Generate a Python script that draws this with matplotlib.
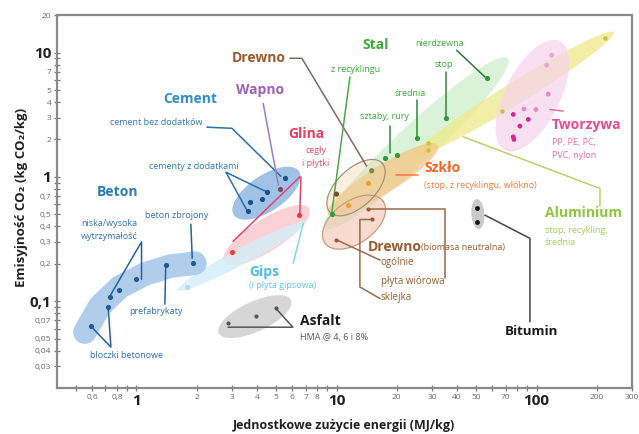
import numpy as np
import matplotlib.pyplot as plt

plt.rcParams['font.family'] = ['Open Sans', 'DejaVu Sans']

# ---- punkty materiałów: energia (MJ/kg), emisja (kg CO2/kg) ----
beton_e = [0.59, 0.72, 0.74, 0.82, 1.0, 1.4, 1.92]
beton_co2 = [0.063, 0.089, 0.107, 0.122, 0.152, 0.194, 0.201]
beton_pas_e = [0.552, 0.656, 0.826, 1.10, 1.47, 1.96]
beton_pas_co2 = [0.0563, 0.0912, 0.130, 0.165, 0.191, 0.202]

cement_e = [5.52, 4.47, 4.22, 3.69, 3.59]
cement_co2 = [0.971, 0.758, 0.658, 0.629, 0.528]
wapno_e = [5.24]
wapno_co2 = [0.792]
glina_e = [6.51, 2.99]
glina_co2 = [0.492, 0.249]
gips_e = [1.78]
gips_co2 = [0.130]
asfalt_e = [2.87, 3.95, 4.98]
asfalt_co2 = [0.0662, 0.0762, 0.0873]

drewno_e = [10.0, 15.0]
drewno_co2 = [0.726, 1.12]
drewno_bn_e = [14.4, 15.0, 9.93]
drewno_bn_co2 = [0.55, 0.454, 0.313]
szklo_e = [14.4, 11.44]
szklo_co2 = [0.885, 0.592]
stal_e = [9.45, 17.46, 19.97, 25.2, 35.4, 56.3]
stal_co2 = [0.50, 1.43, 1.495, 2.04, 2.95, 6.19]
alu_e = [28.7, 28.7, 66.9, 219.8]
alu_co2 = [1.857, 1.64, 3.40, 13.2]
tworzywa_e = [119, 112.3, 114.4, 99.3, 86.5, 76.5, 90.9, 82.6, 76.5, 77.1]
tworzywa_co2 = [9.53, 7.92, 4.63, 3.48, 3.52, 3.18, 2.90, 2.56, 2.10, 2.00]
bitumin_e = [50.5, 50.5]
bitumin_co2 = [0.557, 0.435]

# zakresy grup (dolny i górny skraj obszaru)
cement_zakres = [(3.07, 0.492), (6.49, 1.11)]
glina_zakres = [(2.74, 0.206), (7.28, 0.56)]
gips_zakres = [(1.61, 0.1226), (7.03, 0.432)]
asfalt_zakres = [(2.58, 0.0553), (5.92, 0.102)]
drewno_zakres = [(9.27, 0.52), (16.9, 1.29)]
drewno_bn_zakres = [(8.75, 0.293), (17.1, 0.637)]
stal_zakres = [(8.75, 0.387), (71.9, 9.0)]
szklo_zakres = [(9.06, 0.501), (32.1, 1.80)]
alu_zakres = [(24.7, 1.495), (243.8, 14.6)]
tworzywa_zakres = [(69.5, 1.64), (130.9, 12.35)]
bitumin_zakres = [(50.3, 0.662), (51.5, 0.380)]

# osie
y_ticks = [0.03, 0.04, 0.05, 0.07, 0.1, 0.2, 0.3, 0.4, 0.5, 0.7, 1, 2, 3, 4, 5, 7, 10, 20]
y_labels = ['0,03', '0,04', '0,05', '0,07', '0,1', '0,2', '0,3', '0,4', '0,5', '0,7',
            '1', '2', '3', '4', '5', '7', '10', '20']
y_minor = [0.06, 0.08, 0.09, 0.6, 0.8, 0.9, 6, 8, 9]
x_ticks = [0.6, 0.8, 1, 2, 3, 4, 5, 6, 7, 8, 10, 20, 30, 40, 50, 70, 100, 200, 300]
x_labels = ['0,6', '0,8', '1', '2', '3', '4', '5', '6', '7', '8', '10', '20', '30',
            '40', '50', '70', '100', '200', '300']
x_minor = [0.5, 0.7, 0.9, 9, 60, 80, 90]
bold_ticks = ['1', '10', '100', '0,1']

fig = plt.figure(figsize=(6.39, 4.34), dpi=100)
ax = fig.add_axes([0.089, 0.106, 0.9, 0.859])
ax.set_xscale('log')
ax.set_yscale('log')
ax.set_xlim(0.4, 300)
ax.set_ylim(0.02, 20)

ax.set_yticks(y_ticks, y_labels)
ax.set_yticks(y_minor, minor=True)
ax.set_xticks(x_ticks, x_labels)
ax.set_xticks(x_minor, minor=True)
ax.yaxis.set_minor_formatter(plt.NullFormatter())
ax.xaxis.set_minor_formatter(plt.NullFormatter())
ax.tick_params(which='both', direction='inout', length=4, width=0.9, color='#777777',
               labelsize=6, labelcolor='#666666', pad=2)
for lab in ax.get_xticklabels() + ax.get_yticklabels():
    if lab.get_text() in bold_ticks:
        lab.set_fontsize(11)
        lab.set_fontweight('bold')
        lab.set_color('#222222')
for sp in ax.spines.values():
    sp.set_color('#8a8a8a')
    sp.set_linewidth(1.6)

ax.set_xlabel('Jednostkowe zużycie energii (MJ/kg)', fontsize=9, fontweight='bold',
              color='#222222', labelpad=8)
ax.set_ylabel('Emisyjność CO₂ (kg CO₂/kg)', fontsize=9.5, fontweight='bold',
              color='#222222')
ax.yaxis.set_label_coords(-0.05, 0.51)


def obszar(zakres, szer, color, alpha=0.6, edge=None, z=1):
    # elipsa rozpięta między skrajami zakresu, szerokość w pikselach
    a = ax.transData.transform(zakres[0])
    b = ax.transData.transform(zakres[1])
    c = (a + b) / 2
    d = b - a
    dl = np.hypot(*d) / 2
    u = d / (2 * dl)
    v = np.array([-u[1], u[0]])
    t = np.linspace(0, 2 * np.pi, 120)
    pts = c + np.outer(np.cos(t) * dl, u) + np.outer(np.sin(t) * szer / 2, v)
    pd = ax.transData.inverted().transform(pts)
    ax.fill(pd[:, 0], pd[:, 1], color=color, alpha=alpha, lw=0, zorder=z)
    if edge:
        ax.plot(pd[:, 0], pd[:, 1], color=edge, lw=0.9, zorder=z + 0.1)


def linia(xs, ys, color, lw=1.1):
    ax.plot(xs, ys, color=color, lw=lw, zorder=4, solid_capstyle='round')


def napis(x, y, s, color, size=6.5, bold=False, ha='left'):
    ax.text(x, y, s, color=color, fontsize=size, fontweight='bold' if bold else 'normal',
            ha=ha, va='center', zorder=6, linespacing=1.5)


# obszary
obszar(stal_zakres, 38, '#cdeecb', 0.75)
obszar(alu_zakres, 22, '#efe98a', 0.75)
obszar(szklo_zakres, 28, '#f8c27e', 0.7)
obszar(drewno_bn_zakres, 42, '#f4c4ae', 0.6, edge='#c39c88')
obszar(drewno_zakres, 38, '#efd6a8', 0.35, edge='#a89070')
obszar(tworzywa_zakres, 55, '#f6d3ec', 0.7)
obszar(cement_zakres, 36, '#8fb8e2', 0.85)
obszar(glina_zakres, 32, '#fbc6cb', 0.8)
obszar(gips_zakres, 16, '#d3eef8', 0.8)
obszar(asfalt_zakres, 30, '#cfcfcf', 0.85)
obszar(bitumin_zakres, 13, '#c4c4c4', 0.9)
ax.plot(beton_pas_e, beton_pas_co2, color='#a9c8ea', lw=17, solid_capstyle='round',
        alpha=0.9, zorder=1)

# punkty
kw = dict(s=14, zorder=5, linewidths=0)
ax.scatter(beton_e, beton_co2, color='#1d5b99', **kw)
ax.scatter(cement_e, cement_co2, color='#1a4f8f', **kw)
ax.scatter(wapno_e, wapno_co2, color='#7a4a6a', **kw)
ax.scatter(glina_e, glina_co2, color='#ee3b3b', **kw)
ax.scatter(gips_e, gips_co2, color='#a6e0f2', **kw)
ax.scatter(asfalt_e, asfalt_co2, color='#555555', s=9, zorder=5, linewidths=0)
ax.scatter(drewno_e, drewno_co2, color=['#7a4d2a', '#7c8a3a'], **kw)
ax.scatter(drewno_bn_e, drewno_bn_co2, color='#9a5a3a', s=9, zorder=5, linewidths=0)
ax.scatter(szklo_e, szklo_co2, color='#f0a030', **kw)
ax.scatter(stal_e, stal_co2, color='#2e9a3a', **kw)
ax.scatter(alu_e, alu_co2, color='#c9c43a', s=10, zorder=5, linewidths=0)
ax.scatter(tworzywa_e, tworzywa_co2,
           color=['#e9a6d6', '#e9a6d6', '#e48ac8', '#e48ac8', '#e48ac8', '#c8308e',
                  '#c8308e', '#c8308e', '#c8308e', '#c8308e'], s=12, zorder=5, linewidths=0)
ax.scatter(bitumin_e, bitumin_co2, color='#111111', s=12, zorder=5, linewidths=0)

# linie odnośników
c_bet = '#2163a3'
linia([1.87, 1.9], [0.416, 0.222], c_bet)
linia([0.742, 1.06, 1.06], [0.112, 0.300, 0.150], c_bet)
linia([1.387, 1.40], [0.0946, 0.188], c_bet)
linia([0.59, 0.745, 0.722], [0.063, 0.0427, 0.089], c_bet)
c_cem = '#2a6fb3'
linia([2.25, 3.0, 5.27], [2.51, 2.46, 1.01], c_cem)
linia([3.59, 2.80, 4.47], [0.528, 1.09, 0.758], c_cem)
linia([4.30, 5.12], [3.90, 0.86], '#a07ac4')
linia([3.04, 6.56], [0.303, 1.0], '#e4436a')
linia([6.64, 6.55], [1.0, 0.50], '#e4436a')
linia([6.07, 6.82], [0.201, 0.422], '#86d3ec')
linia([4.98, 6.05, 2.87], [0.0873, 0.0617, 0.0617], '#555555')
linia([5.85, 6.71, 14.15], [9.0, 9.0, 1.22], '#7d6c60')
linia([11.67, 9.45], [6.37, 0.50], '#4aa84a')
linia([18.5, 18.5], [2.56, 1.55], '#2e8a3a')
linia([25.2, 25.2], [4.14, 2.04], '#2e8a3a')
linia([35.4, 35.4], [6.95, 2.95], '#2e8a3a')
linia([39.85, 56.3], [10.45, 6.19], '#2e7a3a')
linia([19.9, 25.6], [1.03, 1.03], '#f47a3a')
linia([43.0, 207.5, 207.5], [2.10, 0.807, 0.581], '#bfcf6a')
linia([116.7, 136], [3.48, 3.38], '#e8709e')
linia([55.2, 92.7, 92.7], [0.492, 0.320, 0.0682], '#444444')
c_drw = '#9a6a4a'
linia([14.4, 34.8, 34.8], [0.55, 0.55, 0.153], c_drw)
linia([15.0, 13.09, 13.09, 16.5], [0.454, 0.454, 0.130, 0.105], c_drw)
linia([9.93, 16.5], [0.313, 0.214], c_drw)

# opisy
napis(0.807, 0.753, 'Beton', '#2b7bbb', 10, True, 'center')
napis(1.59, 0.492, 'beton zbrojony', '#2d70b8', 6.5, ha='center')
napis(0.527, 0.373, 'niska/wysoka\nwytrzymałość', '#2d70b8', 6.5)
napis(1.25, 0.0831, 'prefabrykaty', '#2d70b8', 6.5, ha='center')
napis(0.895, 0.0368, 'bloczki betonowe', '#2d70b8', 6.5, ha='center')
napis(1.85, 4.22, 'Cement', '#2e8fcd', 10, True, 'center')
napis(0.736, 2.75, 'cement bez dodatków', '#2d78c0', 6.5)
napis(1.94, 1.22, 'cementy z dodatkami', '#2d78c0', 6.5, ha='center')
napis(3.14, 4.98, 'Wapno', '#a05cbc', 10, True)
napis(5.71, 2.21, 'Glina', '#ec3a5e', 10, True)
napis(7.89, 1.45, 'cegły\ni płytki', '#ec4a68', 6.5, ha='center')
napis(3.65, 0.171, 'Gips', '#4fbde2', 10, True)
napis(3.65, 0.1345, '(i płyta gipsowa)', '#62c6e8', 6.5)
napis(6.56, 0.069, 'Asfalt', '#1a1a1a', 10, True)
napis(6.56, 0.0513, 'HMA @ 4, 6 i 8%', '#555555', 6.5)
napis(3.0, 9.0, 'Drewno', '#9c5a2c', 10, True)
napis(15.6, 11.47, 'Stal', '#3aaa3a', 10, True, 'center')
napis(12.5, 7.35, 'z recyklingu', '#3aa83a', 6.5, ha='center')
napis(17.3, 3.08, 'sztaby, rury', '#3aa83a', 6.5, ha='center')
napis(23.3, 4.71, 'średnia', '#3aa83a', 6.5, ha='center')
napis(34.4, 8.07, 'stop', '#3aa83a', 6.5, ha='center')
napis(32.9, 11.9, 'nierdzewna', '#3aa83a', 6.5, ha='center')
napis(27.4, 1.175, 'Szkło', '#f26522', 10, True)
napis(27.4, 0.86, '(stop, z recyklingu, włókno)', '#f47a3a', 6.5)
napis(110.2, 0.511, 'Aluminium', '#8cc63f', 10, True)
napis(110.2, 0.33, 'stop, recykling,\nśrednia', '#a3d052', 6.5)
napis(119.4, 2.61, 'Tworzywa', '#ec4a8c', 10, True)
napis(119.4, 1.67, 'PP, PE, PC,\nPVC, nylon', '#ee6aa2', 6.5)
napis(93.8, 0.0574, 'Bitumin', '#1a1a1a', 9.5, True, 'center')
napis(14.4, 0.272, 'Drewno', '#9c5a2c', 10, True)
napis(26.3, 0.272, '(biomasa neutralna)', '#9c5a2c', 6.5)
napis(16.67, 0.206, 'ogólnie', '#9c5a2c', 7)
napis(16.67, 0.145, 'płyta wiórowa', '#9c5a2c', 7)
napis(16.67, 0.106, 'sklejka', '#9c5a2c', 7)

fig.savefig('out.png', dpi=100)
